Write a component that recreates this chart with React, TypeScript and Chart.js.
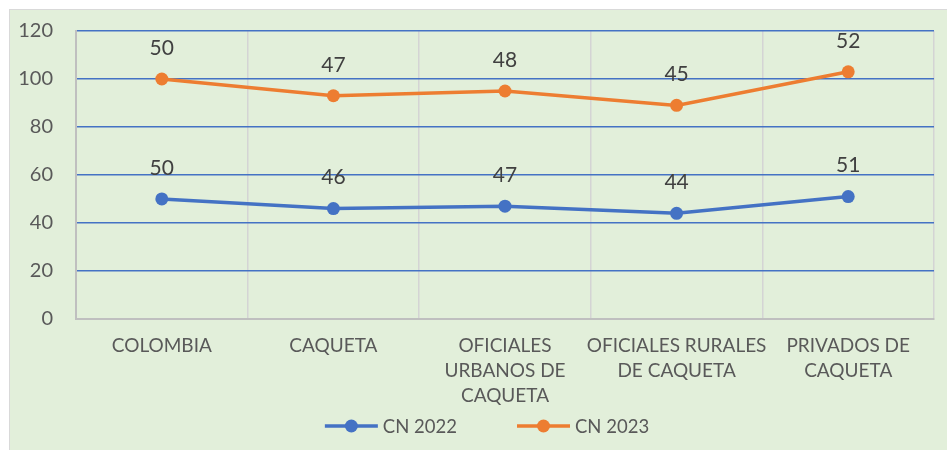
import React, { useEffect, useRef } from "react";
import { Chart, registerables } from "chart.js";

Chart.register(...registerables);

const categories: string[][] = [
  ["COLOMBIA"],
  ["CAQUETA"],
  ["OFICIALES", "URBANOS DE", "CAQUETA"],
  ["OFICIALES RURALES", "DE CAQUETA"],
  ["PRIVADOS DE", "CAQUETA"],
];
const seriesNames = ["CN 2022", "CN 2023"];
const cn2022 = [50, 46, 47, 44, 51];
const cn2023 = [50, 47, 48, 45, 52];
const seriesColors = ["#4472C4", "#ED7D31"];
const yMin = 0;
const yMax = 120;
const yStep = 20;

const FONT = "Lato, 'Open Sans', sans-serif";

const bgPlugin = {
  id: "bg",
  beforeDraw(chart: any) {
    const { ctx } = chart;
    ctx.save();
    ctx.fillStyle = "#E2EFDA";
    ctx.fillRect(0, 0, chart.width, chart.height);
    ctx.restore();
  },
};

const labelPlugin = {
  id: "valueLabels",
  afterDatasetsDraw(chart: any) {
    const { ctx } = chart;
    ctx.save();
    ctx.font = `21px ${FONT}`;
    ctx.fillStyle = "#404040";
    ctx.textAlign = "center";
    ctx.textBaseline = "middle";
    chart.data.datasets.forEach((ds: any, i: number) => {
      const meta = chart.getDatasetMeta(i);
      meta.data.forEach((pt: any, j: number) => {
        ctx.fillText(String(ds.data[j]), pt.x, pt.y - 31);
      });
    });
    ctx.restore();
  },
};

const legendPlugin = {
  id: "customLegend",
  afterDraw(chart: any) {
    const { ctx } = chart;
    ctx.save();
    ctx.font = `18.5px ${FONT}`;
    const lineLen = 53;
    const textGap = 5;
    const itemGap = 60;
    const items = chart.data.datasets.map((ds: any) => ({
      label: ds.label,
      color: ds.borderColor,
      tw: ctx.measureText(ds.label).width,
    }));
    const total =
      items.reduce((s: number, it: any) => s + lineLen + textGap + it.tw, 0) +
      itemGap * (items.length - 1);
    let x = chart.width / 2 + 8.5 - total / 2;
    const y = chart.height - 24;
    items.forEach((it: any) => {
      ctx.strokeStyle = it.color;
      ctx.lineWidth = 3.5;
      ctx.beginPath();
      ctx.moveTo(x, y);
      ctx.lineTo(x + lineLen, y);
      ctx.stroke();
      ctx.fillStyle = it.color;
      ctx.beginPath();
      ctx.arc(x + lineLen / 2, y, 6.5, 0, Math.PI * 2);
      ctx.fill();
      ctx.fillStyle = "#595959";
      ctx.textAlign = "left";
      ctx.textBaseline = "middle";
      ctx.fillText(it.label, x + lineLen + textGap, y + 1);
      x += lineLen + textGap + it.tw + itemGap;
    });
    ctx.restore();
  },
};

export default function App() {
  const ref = useRef<HTMLCanvasElement | null>(null);
  useEffect(() => {
    if (!ref.current) return;
    const chart = new Chart(ref.current, {
      type: "line",
      data: {
        labels: categories as any,
        datasets: [
          {
            label: seriesNames[0],
            data: cn2022,
            borderColor: seriesColors[0],
            backgroundColor: seriesColors[0],
            borderWidth: 3.5,
            pointRadius: 6.5,
            pointBorderWidth: 0,
            fill: false,
            tension: 0,
          },
          {
            label: seriesNames[1],
            data: cn2023,
            borderColor: seriesColors[1],
            backgroundColor: seriesColors[1],
            borderWidth: 3.5,
            pointRadius: 6.5,
            pointBorderWidth: 0,
            fill: false,
            tension: 0,
          },
        ],
      },
      options: {
        responsive: false,
        animation: false,
        layout: { padding: { top: 21, right: 13, left: 0, bottom: 27 } },
        plugins: {
          legend: { display: false },
          tooltip: { enabled: false },
        },
        scales: {
          x: {
            offset: true,
            grid: {
              offset: true,
              color: "#d4d4d4",
              lineWidth: 1.5,
              drawTicks: false,
            },
            border: { display: true, color: "#bfbfbf", width: 2 },
            ticks: {
              autoSkip: false,
              maxRotation: 0,
              minRotation: 0,
              padding: 15,
              color: "#595959",
              font: { family: FONT, size: 19, lineHeight: 1.3 },
            },
          },
          y: {
            stacked: true,
            min: yMin,
            max: yMax,
            afterFit: (scale: any) => {
              scale.width = 66;
              scale.paddingTop = 0;
              scale.paddingBottom = 0;
            },
            grid: {
              color: (c: any) => (c.tick && c.tick.value === 0 ? "rgba(0,0,0,0)" : "#4472C4"),
              lineWidth: 1.5,
              drawTicks: false,
            },
            border: { display: true, color: "#bfbfbf", width: 2 },
            ticks: {
              stepSize: yStep,
              padding: 23,
              color: "#595959",
              font: { family: FONT, size: 20 },
            },
          },
        },
      },
      plugins: [bgPlugin, labelPlugin, legendPlugin],
    });
    return () => chart.destroy();
  }, []);
  return (
    <div
      style={{
        position: "fixed",
        left: 9,
        top: 9,
        width: 938,
        height: 441,
        borderTop: "1px solid #d9d9d9",
        borderLeft: "1px solid #d9d9d9",
        boxSizing: "border-box",
      }}
    >
      <canvas ref={ref} width={937} height={440} style={{ display: "block" }} />
    </div>
  );
}
